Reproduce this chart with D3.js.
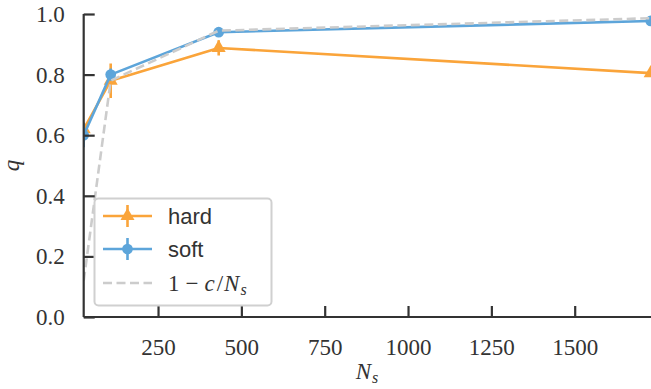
<!DOCTYPE html>
<html>
<head>
<meta charset="utf-8">
<script src="https://cdn.jsdelivr.net/npm/d3@7"></script>
<style>
  html, body { margin: 0; padding: 0; background: #fff; }
  svg { display: block; }
</style>
</head>
<body>
<svg id="chart" width="651" height="389"></svg>
<script>
// Sample sizes N_s and the measured q for both variants
const sampleSizes = [27, 108, 432, 1728];
const hardValues = [0.62, 0.78, 0.888, 0.805];
const hardErrors = [0.01, 0.057, 0.025, 0.01];
const softValues = [0.60, 0.80, 0.94, 0.977];
const softErrors = [0.04, 0.02, 0.01, 0.01];
// Reference curve 1 - c/N_s evaluated at the sample sizes
const refValues = [0.12, 0.78, 0.945, 0.986];

const xTicks = [250, 500, 750, 1000, 1250, 1500];
const yTicks = [0.0, 0.2, 0.4, 0.6, 0.8, 1.0];

const colors = { hard: "#FAA43A", soft: "#5DA5DA", ref: "#cccccc", axis: "#333333" };

const svg = d3.select("#chart");
const W = 651, H = 389;
const pLeft = 83.7, pRight = 650.7, pTop = 14, pBottom = 317;

const x = d3.scaleLinear().domain([27, 1728]).range([pLeft, pRight]);
const y = d3.scaleLinear().domain([0, 1]).range([pBottom, pTop]);

svg.append("defs").append("clipPath").attr("id", "plotClip")
  .append("rect").attr("x", pLeft).attr("y", pTop - 8)
  .attr("width", W - pLeft).attr("height", pBottom - pTop + 8);

const plot = svg.append("g").attr("clip-path", "url(#plotClip)");

const line = d3.line().x(d => x(d[0])).y(d => y(d[1]));

function series(values, errors, color, marker) {
  const pts = sampleSizes.map((n, i) => [n, values[i], errors[i]]);
  const g = plot.append("g");
  g.append("path").datum(pts).attr("d", line)
    .attr("fill", "none").attr("stroke", color).attr("stroke-width", 2.6)
    .attr("stroke-linejoin", "round");
  g.selectAll("line.err").data(pts).join("line")
    .attr("x1", d => x(d[0])).attr("x2", d => x(d[0]))
    .attr("y1", d => y(d[1] - d[2])).attr("y2", d => y(d[1] + d[2]))
    .attr("stroke", color).attr("stroke-width", 2.6);
  const sym = d3.symbol().type(marker).size(marker === d3.symbolCircle ? 90 : 85);
  g.selectAll("path.mk").data(pts).join("path")
    .attr("d", sym)
    .attr("transform", d => `translate(${x(d[0])},${y(d[1])})`)
    .attr("fill", color);
}

series(hardValues, hardErrors, colors.hard, d3.symbolTriangle);
series(softValues, softErrors, colors.soft, d3.symbolCircle);

plot.append("path")
  .datum(sampleSizes.map((n, i) => [n, refValues[i]]))
  .attr("d", line)
  .attr("fill", "none").attr("stroke", colors.ref).attr("stroke-width", 2.6)
  .attr("stroke-dasharray", "9,4.5");

// Axes: only left and bottom spines, ticks pointing inward
const xAxis = d3.axisBottom(x).tickValues(xTicks).tickSize(-11).tickPadding(22)
  .tickFormat(d3.format("d"));
const yAxis = d3.axisLeft(y).tickValues(yTicks).tickSize(-11).tickPadding(19)
  .tickFormat(d3.format(".1f"));

const gx = svg.append("g").attr("transform", `translate(0,${pBottom})`).call(xAxis);
const gy = svg.append("g").attr("transform", `translate(${pLeft},0)`).call(yAxis);

[gx, gy].forEach(g => {
  g.select(".domain").attr("stroke", colors.axis).attr("stroke-width", 2.2);
  g.selectAll(".tick line").attr("stroke", colors.axis).attr("stroke-width", 2.2);
  g.selectAll(".tick text")
    .attr("fill", "#333").attr("font-family", "'Liberation Serif', serif")
    .attr("font-size", 23);
});
gx.select(".domain").attr("d", `M${pLeft},0H${W}`);
gy.select(".domain").attr("d", `M0,${pBottom}V${pTop}`);
gy.selectAll(".tick text").attr("dy", "0.33em");

// Axis labels
svg.append("text")
  .attr("transform", `translate(19,${(pTop + pBottom) / 2}) rotate(-90)`)
  .attr("text-anchor", "middle")
  .attr("font-family", "'Liberation Serif', serif").attr("font-style", "italic")
  .attr("font-size", 23).attr("fill", "#333").text("q");

const xl = svg.append("text")
  .attr("x", 367).attr("y", 379).attr("text-anchor", "middle")
  .attr("font-family", "'Liberation Serif', serif").attr("font-size", 23).attr("fill", "#333");
xl.append("tspan").attr("font-style", "italic").text("N");
xl.append("tspan").attr("font-style", "italic").attr("font-size", 16).attr("dx", 1).attr("dy", 4).text("s");

// Legend
const lg = svg.append("g");
lg.append("rect").attr("x", 94.5).attr("y", 198.5).attr("width", 177).attr("height", 107)
  .attr("rx", 4).attr("fill", "#fff").attr("fill-opacity", 0.9)
  .attr("stroke", "#d0d0d0").attr("stroke-width", 2);

const entries = [
  { label: "hard", color: colors.hard, marker: d3.symbolTriangle, y: 216 },
  { label: "soft", color: colors.soft, marker: d3.symbolCircle, y: 249 }
];
entries.forEach(e => {
  lg.append("line").attr("x1", 103).attr("x2", 152).attr("y1", e.y).attr("y2", e.y)
    .attr("stroke", e.color).attr("stroke-width", 2.6);
  lg.append("line").attr("x1", 127.5).attr("x2", 127.5).attr("y1", e.y - 11).attr("y2", e.y + 11)
    .attr("stroke", e.color).attr("stroke-width", 2.6);
  lg.append("path").attr("d", d3.symbol().type(e.marker).size(e.marker === d3.symbolCircle ? 90 : 85))
    .attr("transform", `translate(127.5,${e.y})`).attr("fill", e.color);
  lg.append("text").attr("x", 168).attr("y", e.y + 8)
    .attr("font-family", "'Liberation Sans', Arial, sans-serif").attr("font-size", 22)
    .attr("fill", "#333").text(e.label);
});
lg.append("line").attr("x1", 103).attr("x2", 152).attr("y1", 283).attr("y2", 283)
  .attr("stroke", colors.ref).attr("stroke-width", 2.6).attr("stroke-dasharray", "9,4.5");
const rt = lg.append("text").attr("x", 168).attr("y", 291)
  .attr("font-family", "'Liberation Serif', serif").attr("font-size", 23).attr("fill", "#333");
rt.append("tspan").text("1");
rt.append("tspan").attr("dx", 6).text("−");
rt.append("tspan").attr("dx", 6).attr("font-style", "italic").text("c");
rt.append("tspan").attr("dx", 2).text("/");
rt.append("tspan").attr("dx", 1).attr("font-style", "italic").text("N");
rt.append("tspan").attr("font-style", "italic").attr("font-size", 16).attr("dx", 1).attr("dy", 4).text("s");
</script>
</body>
</html>
